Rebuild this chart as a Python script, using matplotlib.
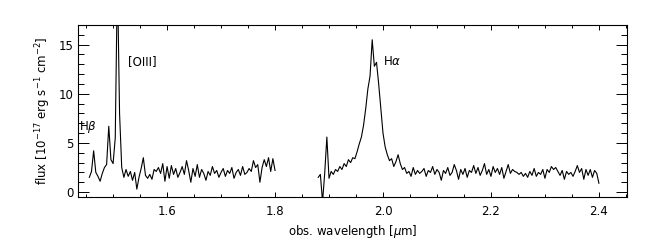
import numpy as np
import matplotlib
matplotlib.use("Agg")
import matplotlib.pyplot as plt
from matplotlib.ticker import MultipleLocator

# spectrum, blue part (H beta / [OIII] region)
flux1 = [1.5, 2.1, 4.2, 2.0, 1.6, 1.1, 1.9, 2.5, 2.8, 6.7,
         3.3, 2.9, 5.5, 22.0, 8.0, 2.5, 1.5, 2.3, 1.6, 2.1,
         1.2, 2.0, 0.3, 1.5, 2.4, 3.5, 1.7, 1.4, 1.8, 1.3,
         2.3, 2.1, 2.5, 1.9, 2.9, 1.1, 2.6, 1.4, 2.7, 1.8,
         2.4, 1.5, 2.0, 2.6, 1.8, 3.2, 2.2, 1.0, 2.4, 1.6,
         2.8, 1.5, 2.3, 1.9, 1.2, 2.1, 1.7, 2.6, 1.9, 2.2,
         1.5, 2.0, 2.4, 1.6, 2.2, 1.9, 2.5, 1.4, 2.0, 2.3,
         1.7, 2.6, 1.8, 2.0, 2.4, 2.1, 3.2, 2.5, 2.8, 1.0,
         2.5, 3.3, 2.6, 3.5, 2.1, 3.4, 2.2]
wl1 = np.linspace(1.456, 1.800, len(flux1))

# spectrum, red part (H alpha region)
flux2 = [1.5, 1.8, -1.0, 1.9, 5.6, 1.4, 2.1, 1.8, 2.3, 2.1,
         2.6, 2.3, 2.9, 2.6, 3.3, 3.0, 3.5, 3.4, 4.1, 4.9,
         5.6, 6.8, 8.5, 10.5, 11.8, 15.5, 12.8, 13.2, 11.0, 8.5,
         6.0, 4.6, 3.8, 3.2, 3.4, 2.6, 3.1, 3.8, 2.9, 2.3,
         2.5, 1.9, 2.1, 1.6, 2.5, 1.8, 2.2, 1.9, 2.1, 2.4,
         1.6, 2.2, 2.0, 2.6, 1.8, 2.3, 2.0, 1.2, 2.2, 1.9,
         2.5, 1.7, 2.0, 2.8, 2.2, 1.3, 2.3, 1.8, 2.4, 1.5,
         2.2, 2.0, 2.7, 1.9, 2.5, 1.7, 2.2, 2.9, 1.8, 2.3,
         1.6, 2.6, 2.0, 2.4, 1.8, 2.5, 1.4, 2.1, 2.8, 1.9,
         2.3, 2.1, 2.0, 1.8, 2.0, 1.6, 1.9, 1.5, 2.1, 1.7,
         2.4, 1.6, 2.0, 1.8, 2.3, 1.4, 2.3, 2.0, 2.6, 2.3,
         2.5, 2.1, 1.7, 2.2, 1.3, 2.1, 1.8, 2.0, 1.6, 2.1,
         2.7, 2.0, 2.4, 1.3, 2.3, 1.7, 2.3, 1.5, 2.2, 1.9,
         0.9]
wl2 = np.linspace(1.880, 2.400, len(flux2))

line_labels = ["H$\\beta$", "[OIII]", "H$\\alpha$"]
label_x = [1.437, 1.528, 2.000]
label_y = [6.6, 13.3, 13.3]

plt.rcParams["font.family"] = "DejaVu Sans"
plt.rcParams["font.size"] = 8.5
plt.rcParams["mathtext.fontset"] = "dejavusans"

fig = plt.figure(figsize=(6.5, 2.5), dpi=100)
ax = fig.add_axes([0.12, 0.212, 0.8446, 0.688])

ax.plot(wl1, flux1, color="black", lw=0.8)
ax.plot(wl2, flux2, color="black", lw=0.8)

for t, x, y in zip(line_labels, label_x, label_y):
    ax.text(x, y, t, ha="left", va="center", fontsize=8.5)

ax.set_xlim(1.435, 2.452)
ax.set_ylim(-0.5, 17.0)
ax.xaxis.set_major_locator(MultipleLocator(0.2))
ax.xaxis.set_minor_locator(MultipleLocator(0.05))
ax.yaxis.set_major_locator(MultipleLocator(5))
ax.yaxis.set_minor_locator(MultipleLocator(1))
ax.xaxis.set_major_formatter(matplotlib.ticker.FormatStrFormatter("%.1f"))

ax.tick_params(axis="x", which="major", direction="in", length=3.5, width=0.7, top=True, pad=6)
ax.tick_params(axis="x", which="minor", direction="in", length=2, width=0.7, top=True)
ax.tick_params(axis="y", which="major", direction="in", length=8, width=0.7, right=True, pad=3)
ax.tick_params(axis="y", which="minor", direction="in", length=4, width=0.7, right=True)
for s in ax.spines.values():
    s.set_linewidth(0.8)

ax.set_xlabel("obs. wavelength [$\\mu$m]", labelpad=3)
ax.set_ylabel("flux [10$^{-17}$ erg s$^{-1}$ cm$^{-2}$]", labelpad=4)

fig.savefig("out.png", dpi=100)
